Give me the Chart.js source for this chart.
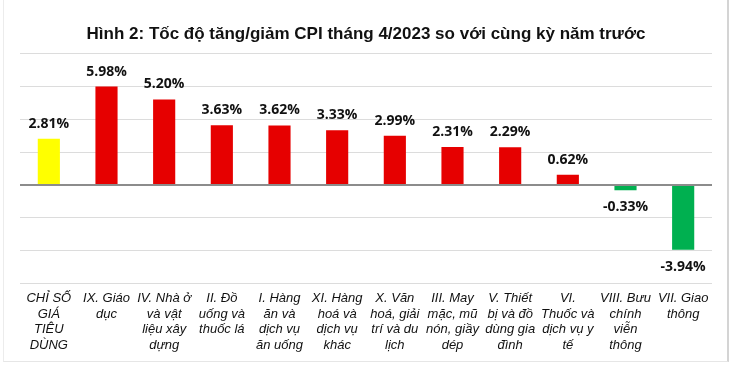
<!DOCTYPE html>
<html>
<head>
<meta charset="utf-8">
<script src="https://cdn.jsdelivr.net/npm/chart.js@4"></script>
<style>
  html, body { margin: 0; padding: 0; background: #fff; }
  #wrap { position: relative; width: 730px; height: 366px; }
  #frame {
    position: absolute; left: 3px; top: 0; width: 723px; height: 361px;
    border-left: 1px solid #ececec; border-bottom: 1px solid #e6e6e6;
    border-right: 2px solid #d4d4d4; pointer-events: none;
  }
</style>
</head>
<body>
<div id="wrap">
  <canvas id="chart" width="730" height="366"></canvas>
  <div id="frame"></div>
</div>
<script>
// du lieu doc tu hinh
const danhMuc = [
  ["CHỈ SỐ", "GIÁ", "TIÊU", "DÙNG"],
  ["IX. Giáo", "dục"],
  ["IV. Nhà ở", "và vật", "liệu xây", "dựng"],
  ["II. Đồ", "uống và", "thuốc lá"],
  ["I. Hàng", "ăn và", "dịch vụ", "ăn uống"],
  ["XI. Hàng", "hoá và", "dịch vụ", "khác"],
  ["X. Văn", "hoá, giải", "trí và du", "lịch"],
  ["III. May", "mặc, mũ", "nón, giầy", "dép"],
  ["V. Thiết", "bị và đồ", "dùng gia", "đình"],
  ["VI.", "Thuốc và", "dịch vụ y", "tế"],
  ["VIII. Bưu", "chính", "viễn", "thông"],
  ["VII. Giao", "thông"],
];
const tocDo = [2.81, 5.98, 5.2, 3.63, 3.62, 3.33, 2.99, 2.31, 2.29, 0.62, -0.33, -3.94];
const tieuDe = "Hình 2: Tốc độ tăng/giảm CPI tháng 4/2023 so với cùng kỳ năm trước";

const mauBar = tocDo.map((v, i) => (i === 0 ? "#FFFF00" : v < 0 ? "#00B050" : "#E60000"));

// ve nhan gia tri tren cot
const nhanGiaTri = {
  id: "nhanGiaTri",
  afterDatasetsDraw(chart) {
    const ctx = chart.ctx;
    const meta = chart.getDatasetMeta(0);
    ctx.save();
    ctx.font = "bold 14px 'Open Sans'";
    ctx.fillStyle = "#111";
    ctx.textAlign = "center";
    ctx.textBaseline = "middle";
    meta.data.forEach((bar, i) => {
      const v = tocDo[i];
      const y = v >= 0 ? bar.y - 15 : bar.y + 17;
      ctx.fillText(v.toFixed(2) + "%", bar.x, y);
    });
    ctx.restore();
  },
};

new Chart(document.getElementById("chart").getContext("2d"), {
  type: "bar",
  data: {
    labels: danhMuc,
    datasets: [
      {
        data: tocDo,
        backgroundColor: mauBar,
        borderWidth: 0,
        categoryPercentage: 0.8,
        barPercentage: 0.48,
      },
    ],
  },
  options: {
    responsive: false,
    animation: false,
    layout: { padding: { left: 20, right: 18, top: 0, bottom: 6 } },
    plugins: {
      legend: { display: false },
      tooltip: { enabled: false },
      title: {
        display: true,
        text: tieuDe,
        color: "#111",
        font: { family: "'Liberation Sans'", size: 17, weight: "bold" },
        padding: { top: 24, bottom: 9 },
      },
    },
    scales: {
      x: {
        grid: { display: false, drawTicks: false },
        border: { display: false },
        ticks: {
          autoSkip: false,
          maxRotation: 0,
          padding: 7,
          color: "#111",
          font: { family: "'Liberation Sans'", size: 13, style: "italic", lineHeight: 1.2 },
        },
      },
      y: {
        min: -6,
        max: 8,
        ticks: { stepSize: 2, display: false },
        border: { display: false },
        grid: {
          drawTicks: false,
          color: (c) => (c.tick && c.tick.value === 0 ? "#8c8c8c" : "#dcdcdc"),
          lineWidth: (c) => (c.tick && c.tick.value === 0 ? 2 : 1),
        },
      },
    },
  },
  plugins: [nhanGiaTri],
});
</script>
</body>
</html>
